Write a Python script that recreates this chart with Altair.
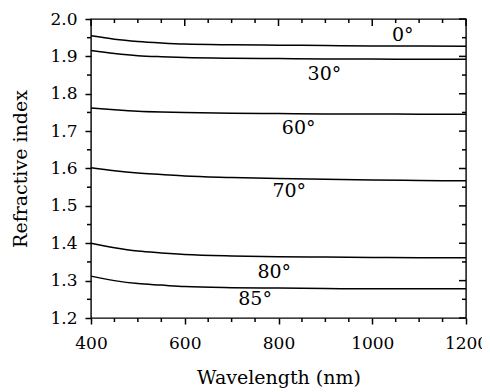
import altair as alt
import pandas as pd

# Wavelength sample points (nm)
wavelength = [400, 450, 500, 550, 600, 700, 800, 900, 1000, 1100, 1200]

# Refractive index vs wavelength for each angle
n_0 = [1.955, 1.946, 1.940, 1.936, 1.933, 1.931, 1.930, 1.929, 1.928, 1.928, 1.927]
n_30 = [1.916, 1.908, 1.902, 1.899, 1.897, 1.895, 1.894, 1.893, 1.893, 1.892, 1.892]
n_60 = [1.762, 1.757, 1.753, 1.751, 1.750, 1.748, 1.747, 1.746, 1.746, 1.745, 1.745]
n_70 = [1.602, 1.594, 1.588, 1.584, 1.580, 1.576, 1.573, 1.571, 1.569, 1.568, 1.567]
n_80 = [1.400, 1.388, 1.379, 1.374, 1.370, 1.366, 1.364, 1.363, 1.362, 1.361, 1.361]
n_85 = [1.312, 1.300, 1.292, 1.288, 1.284, 1.281, 1.280, 1.279, 1.278, 1.278, 1.278]

series_names = ["0", "30", "60", "70", "80", "85"]
series_values = [n_0, n_30, n_60, n_70, n_80, n_85]

# Curve labels
label_text = ["0°", "30°", "60°", "70°", "80°", "85°"]
label_x = [1065, 898, 843, 823, 791, 750]
label_y = [1.958, 1.853, 1.709, 1.540, 1.323, 1.251]

# Ticks
x_major = [400, 600, 800, 1000, 1200]
x_minor = [450, 500, 550, 650, 700, 750, 850, 900, 950, 1050, 1100, 1150]
y_major = [1.2, 1.3, 1.4, 1.5, 1.6, 1.7, 1.8, 1.9, 2.0]
y_minor = [1.25, 1.35, 1.45, 1.55, 1.65, 1.75, 1.85, 1.95]

rows = []
for name, vals in zip(series_names, series_values):
    for w, v in zip(wavelength, vals):
        rows.append({"angle": name, "wavelength": w, "n": v})
df = pd.DataFrame(rows)

FONT = "DejaVu Serif"
W, H = 375, 299
TW = 1.5

xscale = alt.Scale(domain=[400, 1200], nice=False)
yscale = alt.Scale(domain=[1.2, 2.0], nice=False, zero=False)

xaxis = alt.Axis(title="Wavelength (nm)", values=x_major, format="d",
                 tickSize=6, tickColor="black", tickWidth=TW,
                 domainOpacity=0, gridOpacity=0, labelPadding=11,
                 labelFlush=False, labelOverlap=False,
                 labelFont=FONT, labelFontSize=17, labelColor="black",
                 titleFont=FONT, titleFontSize=19, titleFontWeight="normal",
                 titleColor="black", titlePadding=17)
yaxis = alt.Axis(title="Refractive index", values=y_major, format=".1f",
                 tickSize=6, tickColor="black", tickWidth=TW,
                 domainOpacity=0, gridOpacity=0, labelPadding=8,
                 labelFlush=False, labelOverlap=False,
                 labelFont=FONT, labelFontSize=17, labelColor="black",
                 titleFont=FONT, titleFontSize=19, titleFontWeight="normal",
                 titleColor="black", titlePadding=19)

lines = alt.Chart(df).mark_line(color="black", strokeWidth=1.5, interpolate="monotone").encode(
    x=alt.X("wavelength:Q", scale=xscale, axis=xaxis),
    y=alt.Y("n:Q", scale=yscale, axis=yaxis),
    detail="angle:N",
)

lab_df = pd.DataFrame({"x": label_x, "y": label_y, "t": label_text})
labels = alt.Chart(lab_df).mark_text(font=FONT, fontSize=19, color="black",
                                     align="center", baseline="middle").encode(
    x=alt.X("x:Q", scale=xscale, axis=xaxis),
    y=alt.Y("y:Q", scale=yscale, axis=yaxis),
    text="t:N")

xmin_df = pd.DataFrame({"x": x_minor})
xmaj_df = pd.DataFrame({"x": x_major})
ymin_df = pd.DataFrame({"y": y_minor})
ymaj_df = pd.DataFrame({"y": y_major})

XR = alt.X("x:Q", scale=xscale, axis=xaxis)
YR = alt.Y("y:Q", scale=yscale, axis=yaxis)

# bottom minor ticks (outward)
bot_minor = alt.Chart(xmin_df).mark_rule(color="black", strokeWidth=TW).encode(
    x=XR, y=alt.value(H), y2=alt.value(H + 4))
# top ticks (inward)
top_major = alt.Chart(xmaj_df).mark_rule(color="black", strokeWidth=TW).encode(
    x=XR, y=alt.value(0), y2=alt.value(7))
top_minor = alt.Chart(xmin_df).mark_rule(color="black", strokeWidth=TW).encode(
    x=XR, y=alt.value(0), y2=alt.value(4))
# left minor ticks (outward)
left_minor = alt.Chart(ymin_df).mark_rule(color="black", strokeWidth=TW).encode(
    y=YR, x=alt.value(-4), x2=alt.value(0))
# right ticks (inward)
right_major = alt.Chart(ymaj_df).mark_rule(color="black", strokeWidth=TW).encode(
    y=YR, x=alt.value(W - 7), x2=alt.value(W))
right_minor = alt.Chart(ymin_df).mark_rule(color="black", strokeWidth=TW).encode(
    y=YR, x=alt.value(W - 4), x2=alt.value(W))

chart = alt.layer(
    lines, labels, bot_minor, top_major, top_minor, left_minor, right_major, right_minor
).properties(
    width=W, height=H,
    background="white",
    autosize=alt.AutoSizeParams(type="none"),
    padding={"left": 83, "top": 11, "right": 16, "bottom": 73},
).configure_view(
    stroke="black", strokeWidth=1.4
)

chart.save("out.html", embed_options={"renderer": "svg", "actions": False})
